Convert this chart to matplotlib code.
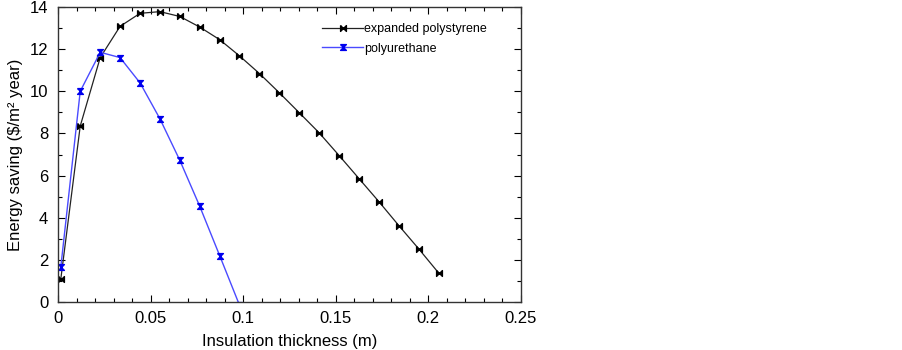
import numpy as np
import matplotlib
matplotlib.use("Agg")
import matplotlib.pyplot as plt
from matplotlib.ticker import MultipleLocator

plt.rcParams['font.family'] = ['Liberation Sans', 'DejaVu Sans']

# expanded polystyrene
eps_x = [0.0015, 0.0120, 0.0228, 0.0335, 0.0443, 0.0550, 0.0658, 0.0765, 0.0873, 0.0980,
         0.1088, 0.1195, 0.1303, 0.1410, 0.1518, 0.1625, 0.1733, 0.1840, 0.1948, 0.2055]
eps_y = [1.08, 8.35, 11.6, 13.08, 13.7, 13.78, 13.55, 13.05, 12.45, 11.68,
         10.84, 9.93, 8.98, 8.03, 6.95, 5.86, 4.76, 3.63, 2.52, 1.38]

# polyurethane
pu_x = [0.0015, 0.0120, 0.0228, 0.0335, 0.0443, 0.0550, 0.0658, 0.0765, 0.0873, 0.0980]
pu_y = [1.65, 10.0, 11.85, 11.6, 10.4, 8.7, 6.72, 4.55, 2.2, -0.15]

bowtie = [(-1, 1), (-1, -1), (1, 1), (1, -1), (-1, 1)]
hourglass = [(-1, 1), (1, 1), (-1, -1), (1, -1), (-1, 1)]

fig = plt.figure(figsize=(9.03, 3.5), dpi=100)
ax = fig.add_axes([58 / 903, 1 - 302 / 350, (521 - 58) / 903, (302 - 7) / 350])

ax.plot(eps_x, eps_y, color='#222222', lw=0.9, marker=bowtie, ms=4.2,
        mfc='black', mec='black', label='expanded polystyrene')
ax.plot(pu_x, pu_y, color='#4a4aff', lw=1.0, marker=hourglass, ms=4.2,
        mfc='#0000ee', mec='#0000ee', label='polyurethane')

ax.set_xlim(0, 0.25)
ax.set_ylim(0, 14)
ax.set_xticks([0, 0.05, 0.1, 0.15, 0.2, 0.25])
ax.set_xticklabels(['0', '0.05', '0.1', '0.15', '0.2', '0.25'])
ax.set_yticks(range(0, 15, 2))
ax.xaxis.set_minor_locator(MultipleLocator(0.01))
ax.yaxis.set_minor_locator(MultipleLocator(1))
ax.tick_params(which='both', direction='in', top=True, right=True, labelsize=12, width=0.8)
ax.tick_params(which='major', length=5)
ax.tick_params(which='minor', length=3)
ax.tick_params(axis='x', pad=6.5)
ax.tick_params(axis='y', pad=7)
for s in ax.spines.values():
    s.set_linewidth(1.0)
    s.set_color('#333333')

ax.set_xlabel('Insulation thickness (m)', fontsize=12, labelpad=6)
ax.set_ylabel('Energy saving ($/m² year)', fontsize=12, labelpad=5)

ax.legend(loc='upper left', bbox_to_anchor=(0.535, 1.0), frameon=False, fontsize=9,
          handlelength=3.3, handletextpad=0.05, labelspacing=0.6, borderaxespad=0.9)

fig.savefig('out.png', dpi=100)
